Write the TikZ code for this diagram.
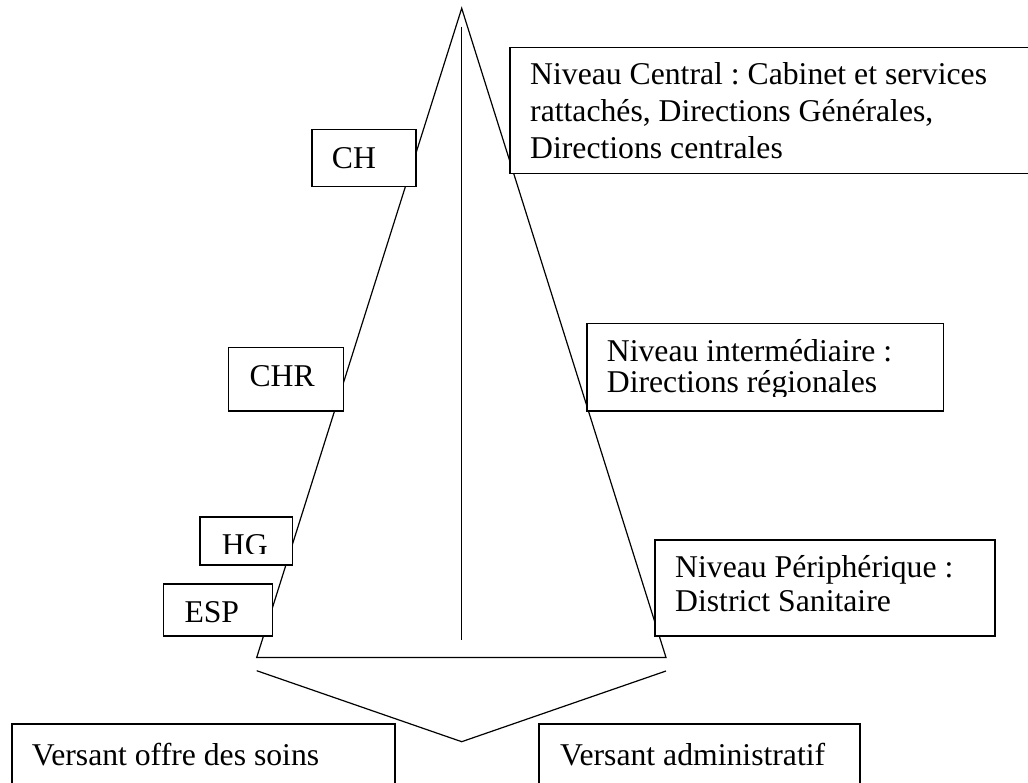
\documentclass[tikz,border=0pt]{standalone}
\usepackage{fontspec}
\setmainfont{Liberation Serif}
\frenchspacing
\begin{document}
\begin{tikzpicture}[x=1pt,y=-1pt,
  edge/.style={line width=1.2pt},
  box/.style={draw, fill=white, line width=1.5pt, inner sep=0pt, anchor=north west},
  lbl/.style={anchor=base west, inner sep=0pt, font=\fontsize{31.7}{36}\selectfont\frenchspacing}]
\useasboundingbox (0,0) rectangle (1028,783);
\clip (0,0) rectangle (1028,783);
% pyramid
\coordinate (apex) at (461.7,8.3);
\coordinate (bl) at (256.7,657.5);
\coordinate (br) at (666,657.5);
\coordinate (vtop) at (461.7,26.7);
\coordinate (vbot) at (461.7,640);
\coordinate (cl) at (256.7,670.7);
\coordinate (cv) at (461.7,741.7);
\coordinate (cr) at (666,671);
\draw[edge] (apex) -- (bl) -- (br) -- cycle;
\draw[edge] (vtop) -- (vbot);
\draw[edge] (cl) -- (cv) -- (cr);
% boxes
\node[box, minimum width=104, minimum height=56.7] (ch) at (311,129) {};
\node[box, minimum width=540, minimum height=126] (central) at (509.3,46.7) {};
\node[box, minimum width=115, minimum height=63.3] (chr) at (227.7,346.7) {};
\node[box, minimum width=356.5, minimum height=87.3] (inter) at (586,322.7) {};
\node[box, minimum width=92.4, minimum height=48.3] (hg) at (199.3,516) {};
\node[box, minimum width=109, minimum height=51.7] (esp) at (162.7,583.3) {};
\node[box, minimum width=340, minimum height=96] (periph) at (654,539) {};
\node[box, minimum width=383.3, minimum height=90] (vo) at (11,723.3) {};
\node[box, minimum width=321, minimum height=90] (va) at (538.3,723.3) {};
% texts
\node[lbl] (tch) at (331.7,168.3) {CH};
\node[lbl] (tchr) at (249.3,386.7) {CHR};
\begin{scope}
\clip (199.3,516) rectangle (291.7,553);
\node[lbl] (thg) at (221.7,555) {HG};
\end{scope}
\node[lbl] (tesp) at (184.3,622.7) {ESP};
\node[lbl] (c1) at (530,85) {Niveau Central : Cabinet et services};
\node[lbl] (c2) at (530,121.7) {rattachés, Directions Générales,};
\node[lbl] (c3) at (530,158.3) {Directions centrales};
\begin{scope}
\clip (586,322.7) rectangle (942.5,397);
\node[lbl] (i1) at (606.7,362) {Niveau intermédiaire :};
\node[lbl] (i2) at (606.7,392) {Directions régionales};
\end{scope}
\node[lbl] (p1) at (675,577.3) {Niveau Périphérique :};
\node[lbl] (p2) at (675,611.7) {District Sanitaire};
\node[lbl] (tvo) at (31.7,765) {Versant offre des soins};
\node[lbl] (tva) at (560,765) {Versant administratif};
\end{tikzpicture}
\end{document}
